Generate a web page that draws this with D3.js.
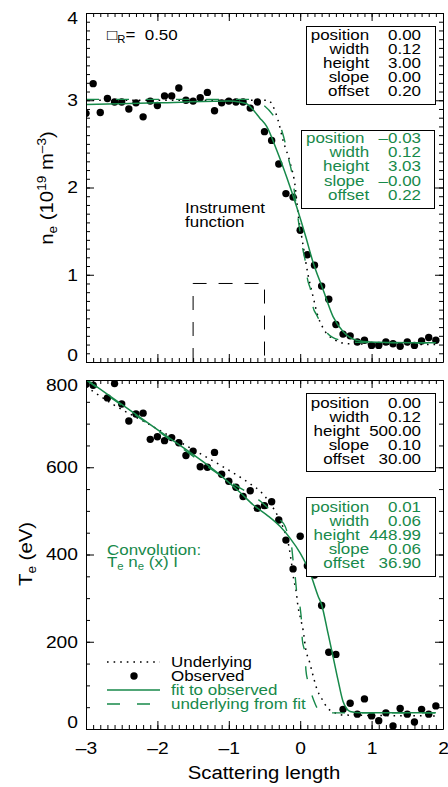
<!DOCTYPE html>
<html>
<head>
<meta charset="utf-8">
<script src="https://cdn.jsdelivr.net/npm/d3@7"></script>
<style>
  body { margin: 0; background: #fff; }
  text { font-family: "Liberation Sans", Arial, Helvetica, sans-serif; }
</style>
</head>
<body>
<svg id="chart" width="448" height="787"></svg>
<script>
// ---- data ----
const xObs = [-3.0,-2.9,-2.8,-2.7,-2.6,-2.5,-2.4,-2.3,-2.2,-2.1,-2.0,-1.9,-1.8,-1.7,-1.6,-1.5,-1.4,-1.3,-1.2,-1.1,
              -1.0,-0.9,-0.8,-0.7,-0.6,-0.5,-0.4,-0.3,-0.2,-0.1,0.0,0.1,0.2,0.3,0.4,0.5,0.6,0.7,0.8,0.9,
              1.0,1.1,1.2,1.3,1.4,1.5,1.6,1.7,1.8,1.9];

const neObs = [2.85,3.19,2.86,3.02,2.98,2.98,2.90,2.97,2.81,2.99,2.94,3.05,3.05,3.14,3.00,2.99,3.03,3.09,2.88,2.97,
               2.99,2.98,2.98,2.91,2.98,2.64,2.54,2.27,1.93,1.89,1.51,1.23,1.11,0.87,0.72,0.43,0.32,0.30,0.23,0.25,
               0.19,0.19,0.23,0.21,0.18,0.23,0.19,0.24,0.28,0.25];

const teObs = [790,788,830,759,792,745,706,722,724,664,670,661,668,656,627,637,601,600,634,584,
               568,554,533,546,506,512,521,479,433,367,442,374,353,283,176,171,45,59,34,69,
               30,19,37,7,47,34,16,45,34,53];

// curves [x, y]
const neUnderlying = [[-3.0,3.0],[-0.45,3.0],[-0.38,2.93],[-0.31,2.77],[-0.24,2.54],[-0.14,2.28],[-0.07,2.01],
  [-0.03,1.70],[0.02,1.44],[0.04,1.34],[0.11,1.0],[0.18,0.75],[0.25,0.52],[0.32,0.39],[0.45,0.27],[0.67,0.21],[1.9,0.2]];
const neFitUnderlying = [[-3.0,3.01],[-0.7,3.01],[-0.54,2.96],[-0.38,2.83],[-0.26,2.66],[-0.21,2.51],[-0.17,2.35],
  [-0.12,2.18],[-0.07,1.88],[0.04,1.28],[0.07,1.16],[0.10,0.96],[0.15,0.81],[0.18,0.63],[0.23,0.54],[0.38,0.33],
  [0.56,0.25],[0.8,0.225],[1.9,0.22]];
const neFit = [[-3.0,2.95],[-2.0,2.97],[-1.0,2.99],[-0.85,2.98],[-0.75,2.96],[-0.66,2.89],[-0.57,2.80],[-0.47,2.70],
  [-0.33,2.43],[-0.19,2.12],[-0.05,1.78],[0.08,1.43],[0.17,1.17],[0.32,0.83],[0.46,0.52],[0.60,0.35],[0.79,0.25],
  [0.98,0.23],[1.9,0.22]];

const teUnderlying = [[-3.0,785],[-2.62,744],[-2.10,697],[-1.59,649],[-1.08,601],[-0.70,562],[-0.56,545],[-0.42,517],
  [-0.31,487],[-0.21,449],[-0.16,420],[-0.12,378],[-0.09,342],[-0.06,319],[-0.03,280],[0.01,250],[0.04,227],[0.08,181],
  [0.13,154],[0.16,135],[0.24,89],[0.30,70],[0.39,47],[0.49,37],[0.6,32],[1.9,30]];
const teFitUnderlying = [[-3.0,800],[-2.0,684],[-1.0,568],[-0.52,517],[-0.42,502],[-0.30,482],[-0.21,464],[-0.17,445],
  [-0.12,418],[-0.10,387],[-0.07,349],[-0.05,315],[0.0,277],[0.02,242],[0.03,204],[0.07,170],[0.08,135],[0.11,108],
  [0.18,70],[0.27,42],[0.4,37],[1.9,37]];
const teFit = [[-3.0,802],[-2.0,686],[-1.12,582],[-0.84,542],[-0.66,514],[-0.47,491],[-0.28,464],[-0.14,437],[0.0,403],
  [0.14,357],[0.25,305],[0.30,285],[0.39,219],[0.46,166],[0.53,112],[0.60,63],[0.65,47],[0.70,40],[0.84,37],[1.9,37]];

// instrument function (drawn in the top panel)
const instrX = [-1.5,-1.5,-0.5,-0.5];
const instrY = [0,0.9,0.9,0];

// parameter boxes
const paramNames = ["position","width","height","slope","offset"];
const neTrueVals = ["0.00","0.12","3.00","0.00","0.20"];
const neFitVals  = ["\u20130.03","0.12","3.03","\u20130.00","0.22"];
const teTrueVals = ["0.00","0.12","500.00","0.10","30.00"];
const teFitVals  = ["0.01","0.06","448.99","0.06","36.90"];

// ticks
const xTicks = [-3,-2,-1,0,1,2];
const xTickLabels = ["\u20133","\u20132","\u20131","0","1","2"];
const neTicks = [0,1,2,3,4];
const neTickLabels = ["0","1","2","3","4"];
const teTicks = [0,200,400,600,800];
const teTickLabels = ["0","200","400","600","800"];

// ---- drawing ----
const green = "#17894a";
const kx = 1.13;   // horizontal stretch of the original font
const svg = d3.select("#chart");

const x = d3.scaleLinear().domain([-3, 2]).range([86, 443]);
const yNe = d3.scaleLinear().domain([0, 4]).range([362, 13]);
const yTe = d3.scaleLinear().domain([0, 800]).range([729, 380]);

function stretch(sel) {
    sel.each(function() {
        const L = this.getComputedTextLength();
        if (L > 0) d3.select(this).attr("textLength", L * kx).attr("lengthAdjust", "spacingAndGlyphs");
    });
}

function frame(y, yTicks, yLabels, yMinorN, showX) {
    const [yb, yt] = y.range();
    const g = svg.append("g").attr("class", "frame");

    // minor ticks on all four sides
    const noDomain = s => s.select(".domain").remove();
    g.append("g").attr("transform", `translate(0,${yb})`)
        .call(d3.axisBottom(x).tickValues(x.ticks(50)).tickSize(-4).tickFormat("")).call(noDomain);
    g.append("g").attr("transform", `translate(0,${yt})`)
        .call(d3.axisTop(x).tickValues(x.ticks(50)).tickSize(-4).tickFormat("")).call(noDomain);
    g.append("g").attr("transform", `translate(${x.range()[0]},0)`)
        .call(d3.axisLeft(y).tickValues(y.ticks(yMinorN)).tickSize(-4).tickFormat("")).call(noDomain);
    g.append("g").attr("transform", `translate(${x.range()[1]},0)`)
        .call(d3.axisRight(y).tickValues(y.ticks(yMinorN)).tickSize(-4).tickFormat("")).call(noDomain);

    // major ticks + frame
    const bottom = g.append("g").attr("transform", `translate(0,${yb})`)
        .call(d3.axisBottom(x).tickValues(xTicks).tickSizeInner(-8).tickSizeOuter(0).tickPadding(13)
            .tickFormat((d, i) => showX ? xTickLabels[i] : ""));
    g.append("g").attr("transform", `translate(0,${yt})`)
        .call(d3.axisTop(x).tickValues(xTicks).tickSizeInner(-8).tickSizeOuter(0).tickFormat(""));
    const left = g.append("g").attr("transform", `translate(${x.range()[0]},0)`)
        .call(d3.axisLeft(y).tickValues(yTicks).tickSizeInner(-8).tickSizeOuter(0).tickPadding(8)
            .tickFormat((d, i) => yLabels[i]));
    g.append("g").attr("transform", `translate(${x.range()[1]},0)`)
        .call(d3.axisRight(y).tickValues(yTicks).tickSizeInner(-8).tickSizeOuter(0).tickFormat(""));

    g.selectAll("path.domain").attr("stroke", "#000");
    g.selectAll("line").attr("stroke", "#000");
    g.selectAll("text").attr("font-family", null).style("font-size", "17px").attr("fill", "#000");
    // end labels pulled inward
    left.selectAll(".tick text").filter((d, i) => i === 0).attr("y", -7);
    left.selectAll(".tick text").filter((d, i, n) => i === n.length - 1).attr("y", 5);
    stretch(left.selectAll("text"));
    stretch(bottom.selectAll("text"));
    return g;
}

function clipFor(id, y) {
    svg.append("clipPath").attr("id", id).append("rect")
        .attr("x", x.range()[0]).attr("y", y.range()[1])
        .attr("width", x.range()[1] - x.range()[0]).attr("height", y.range()[0] - y.range()[1]);
}

function plotData(y, obs, underlying, fitUnder, fit, clipId) {
    const g = svg.append("g").attr("clip-path", `url(#${clipId})`);
    const line = d3.line().x(d => x(d[0])).y(d => y(d[1])).curve(d3.curveMonotoneX);

    g.selectAll("circle").data(xObs).join("circle")
        .attr("cx", d => x(d)).attr("cy", (d, i) => y(obs[i])).attr("r", 3.7).attr("fill", "#000");

    g.append("path").attr("d", line(underlying)).attr("fill", "none")
        .attr("stroke", "#000").attr("stroke-width", 1.5).attr("stroke-dasharray", "1.6,5");
    g.append("path").attr("d", line(fitUnder)).attr("fill", "none")
        .attr("stroke", green).attr("stroke-width", 1.4).attr("stroke-dasharray", "13,17");
    g.append("path").attr("d", line(fit)).attr("fill", "none")
        .attr("stroke", green).attr("stroke-width", 1.5);
}

function paramBox(x0, y0, x1, y1, firstBase, step, vals, color) {
    const g = svg.append("g");
    g.append("rect").attr("x", x0 + 0.5).attr("y", y0 + 0.5).attr("width", x1 - x0).attr("height", y1 - y0)
        .attr("fill", "#fff").attr("stroke", "#000");
    g.selectAll("text").data(paramNames).join("text")
        .attr("x", 421).attr("y", (d, i) => firstBase + i * step)
        .attr("text-anchor", "end").attr("xml:space", "preserve").style("white-space", "pre")
        .style("font-size", "15px").attr("fill", color)
        .text((d, i) => d.padStart(8, " ") + " " + vals[i].padStart(7, " "));
    stretch(g.selectAll("text"));
}

clipFor("clipNe", yNe);
clipFor("clipTe", yTe);

// ---- top panel: density ----
plotData(yNe, neObs, neUnderlying, neFitUnderlying, neFit, "clipNe");
frame(yNe, neTicks, neTickLabels, 40, false);

svg.append("path")
    .attr("d", d3.line()(instrX.map((d, i) => [x(d), yNe(instrY[i])])))
    .attr("fill", "none").attr("stroke", "#000").attr("stroke-width", 1).attr("stroke-dasharray", "14,12");

const instr = svg.append("g").style("font-size", "15px");
instr.append("text").attr("x", 185).attr("y", 213).text("Instrument");
instr.append("text").attr("x", 185).attr("y", 227).text("function");
stretch(instr.selectAll("text"));

const rho = svg.append("text").attr("x", 107).attr("y", 40).style("font-size", "15px");
rho.append("tspan").text("\u25A1");
rho.append("tspan").attr("dy", 3).style("font-size", "10px").text("R");
rho.append("tspan").attr("dy", -3).attr("xml:space", "preserve").style("white-space", "pre").text("=  0.50");
stretch(rho);

paramBox(306, 26, 435, 104, 40, 14, neTrueVals, "#000");
paramBox(301, 130, 434, 208, 143, 14.2, neFitVals, green);

const neTitle = svg.append("text").attr("transform", "translate(53,188) rotate(-90)")
    .attr("text-anchor", "middle").style("font-size", "18px");
neTitle.append("tspan").text("n");
neTitle.append("tspan").attr("dy", 4).style("font-size", "12px").text("e");
neTitle.append("tspan").attr("dy", -4).text(" (10");
neTitle.append("tspan").attr("dy", -7).style("font-size", "12px").text("19");
neTitle.append("tspan").attr("dy", 7).text(" m");
neTitle.append("tspan").attr("dy", -7).style("font-size", "12px").text("\u20133");
neTitle.append("tspan").attr("dy", 7).text(")");
stretch(neTitle);

// ---- bottom panel: temperature ----
plotData(yTe, teObs, teUnderlying, teFitUnderlying, teFit, "clipTe");
frame(yTe, teTicks, teTickLabels, 16, true);

paramBox(306, 393, 435, 471, 408, 14, teTrueVals, "#000");
paramBox(306, 497, 435, 576, 512, 14, teFitVals, green);

const conv = svg.append("g").style("font-size", "15px").attr("fill", green);
conv.append("text").attr("x", 107).attr("y", 555).text("Convolution:");
const conv2 = conv.append("text").attr("x", 107).attr("y", 567);
conv2.append("tspan").text("T");
conv2.append("tspan").attr("dy", 3).style("font-size", "10px").text("e");
conv2.append("tspan").attr("dy", -3).text(" n");
conv2.append("tspan").attr("dy", 3).style("font-size", "10px").text("e");
conv2.append("tspan").attr("dy", -3).text(" (x) I");
stretch(conv.selectAll("text"));

const teTitle = svg.append("text").attr("transform", "translate(32,554) rotate(-90)")
    .attr("text-anchor", "middle").style("font-size", "18px");
teTitle.append("tspan").text("T");
teTitle.append("tspan").attr("dy", 4).style("font-size", "12px").text("e");
teTitle.append("tspan").attr("dy", -4).text(" (eV)");
stretch(teTitle);

const xTitle = svg.append("text").attr("x", 264).attr("y", 779).attr("text-anchor", "middle")
    .style("font-size", "18px").text("Scattering length");
stretch(xTitle);

// legend
const legendItems = [
    { label: "Underlying", color: "#000", kind: "dotted" },
    { label: "Observed", color: "#000", kind: "dot" },
    { label: "fit to observed", color: green, kind: "solid" },
    { label: "underlying from fit", color: green, kind: "dashed" }
];
const leg = svg.append("g");
legendItems.forEach((it, i) => {
    const cy = 662 + i * 14;
    if (it.kind === "dot") {
        leg.append("circle").attr("cx", 134).attr("cy", cy).attr("r", 3.7).attr("fill", "#000");
    } else {
        leg.append("line").attr("x1", 107).attr("x2", 160).attr("y1", cy).attr("y2", cy)
            .attr("stroke", it.color).attr("stroke-width", it.kind === "dotted" ? 1.5 : 1.4)
            .attr("stroke-dasharray", it.kind === "dotted" ? "1.6,5" : it.kind === "dashed" ? "13,17" : null);
    }
    leg.append("text").attr("x", 171).attr("y", cy + 4.5).style("font-size", "15px")
        .attr("fill", it.color).text(it.label);
});
stretch(leg.selectAll("text"));
</script>
</body>
</html>
